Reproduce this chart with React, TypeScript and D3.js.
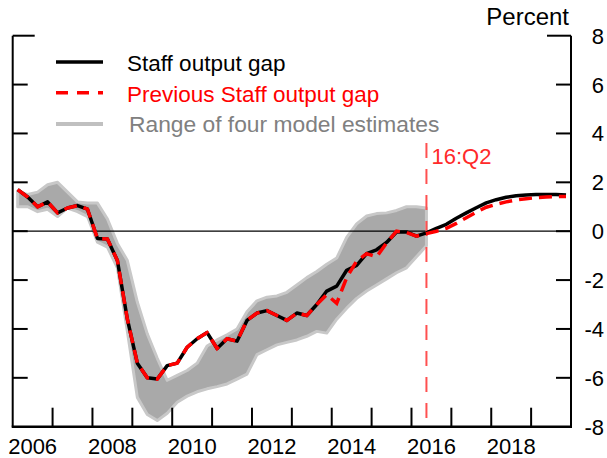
import React from "react";
import * as d3 from "d3";

// Quarterly data, 2006Q1 .. 2019Q4
const START_YEAR = 2006;
const staffGap = [
  1.7, 1.4, 1.0, 1.2,
  0.75, 0.95, 1.05, 0.9,
  -0.3, -0.32, -1.2, -3.6,
  -5.4, -6.0, -6.05, -5.5,
  -5.4, -4.75, -4.4, -4.15,
  -4.8, -4.4, -4.5, -3.65,
  -3.35, -3.25, -3.45, -3.65,
  -3.35, -3.45, -3.0, -2.45,
  -2.25, -1.6, -1.4, -0.92,
  -0.76, -0.46, -0.03, -0.03,
  -0.2, -0.07, 0.12, 0.28,
  0.53, 0.75, 0.96, 1.16,
  1.29, 1.39, 1.45, 1.48,
  1.5, 1.5, 1.5, 1.48,
];
const prevGap = [
  1.7, 1.4, 1.0, 1.2,
  0.75, 0.95, 1.05, 0.9,
  -0.3, -0.32, -1.2, -3.6,
  -5.4, -6.0, -6.05, -5.5,
  -5.4, -4.75, -4.4, -4.15,
  -4.8, -4.4, -4.5, -3.65,
  -3.35, -3.25, -3.45, -3.65,
  -3.35, -3.45, -3.0, -2.6,
  -2.95, -1.9, -1.22, -0.92,
  -1.05, -0.48, 0.0, -0.05,
  -0.2, -0.1, 0.0, 0.12,
  0.32, 0.55, 0.78, 0.98,
  1.1, 1.2, 1.28, 1.33,
  1.37, 1.4, 1.42, 1.42,
];
// Range of four model estimates, 2006Q1 .. 2016Q2
const rangeUpper = [
  1.65, 1.5, 1.6, 1.9,
  2.0, 1.6, 1.2, 1.15,
  1.15, 0.5, -0.5, -1.2,
  -2.9, -4.2, -5.2, -6.1,
  -5.9, -5.7, -5.4, -4.7,
  -4.45, -4.24, -4.0, -3.3,
  -2.85, -2.7, -2.65, -2.5,
  -2.2, -1.9, -1.65, -1.35,
  -1.1, -0.25, 0.3, 0.62,
  0.72, 0.75, 0.85, 1.0,
  1.0, 0.95,
];
const rangeLower = [
  1.0, 1.0, 0.8, 0.9,
  0.6, 0.95, 0.8, 0.6,
  -0.45, -0.65, -1.5, -4.1,
  -6.8, -7.5, -7.75, -7.45,
  -7.0, -6.75, -6.57, -6.45,
  -6.36, -6.25, -6.05, -5.85,
  -5.05, -4.85, -4.65, -4.55,
  -4.45, -4.3, -4.1, -4.17,
  -3.6, -3.15, -2.75, -2.45,
  -2.2, -1.95, -1.7, -1.5,
  -1.05, -0.6,
];
const yTicks = [8, 6, 4, 2, 0, -2, -4, -6, -8];
const yearTicks = [2007, 2008, 2009, 2010, 2011, 2012, 2013, 2014, 2015, 2016, 2017, 2018, 2019];
const yearLabels = ["2006", "2008", "2010", "2012", "2014", "2016", "2018"];
const cutoffIndex = 41; // 2016Q2
const cutoffLabel = "16:Q2";
const legendItems = ["Staff output gap", "Previous Staff output gap", "Range of four model estimates"];
const unitLabel = "Percent";

const W = 607;
const H = 458;
const FONT = "'Liberation Sans', Arial, Helvetica, sans-serif";

export default function App() {
  const L = 12.7, R = 571, T = 35.7, B = 426.7;
  const x = d3.scaleLinear().domain([START_YEAR, 2020]).range([L, R]);
  const y = d3.scaleLinear().domain([-8, 8]).range([B, T]);
  const qx = (i: number) => x(START_YEAR + (i + 0.5) / 4);

  const line = d3.line<number>().x((_, i) => qx(i)).y((d) => y(d));
  const area = d3
    .area<number>()
    .x((_, i) => qx(i))
    .y0((_, i) => y(rangeLower[i]))
    .y1((d) => y(d));

  const cx = qx(cutoffIndex);

  return (
    <svg width={W} height={H} style={{ position: "absolute", left: 0, top: 0 }} fontFamily={FONT}>
      <rect width={W} height={H} fill="#fff" />
      {/* range band */}
      <path d={area(rangeUpper) || ""} fill="#a9a9a9" stroke="#c8c8c8" strokeWidth={3} strokeLinejoin="round" />
      {/* zero line */}
      <line x1={L} x2={R} y1={y(0)} y2={y(0)} stroke="#000" strokeWidth={1.2} />
      {/* cutoff */}
      <line x1={cx} x2={cx} y1={143} y2={B} stroke="#ff5050" strokeWidth={2} strokeDasharray="15,11" />
      <text x={cx + 5} y={164} fontSize={22} fill="#ff2a2a">{cutoffLabel}</text>
      {/* series */}
      <path d={line(staffGap) || ""} fill="none" stroke="#000" strokeWidth={3.5} strokeLinejoin="round" />
      <path d={line(prevGap) || ""} fill="none" stroke="#ff0000" strokeWidth={3.5} strokeDasharray="13,7" />
      {/* axes */}
      <line x1={L} x2={L} y1={T} y2={B} stroke="#000" strokeWidth={2} />
      <line x1={R} x2={R} y1={T} y2={B + 1} stroke="#000" strokeWidth={2} />
      <line x1={L - 1} x2={R + 1} y1={B} y2={B} stroke="#000" strokeWidth={2.5} />
      <line x1={L} x2={L + 22} y1={T} y2={T} stroke="#000" strokeWidth={2} />
      <line x1={R - 24} x2={R} y1={T} y2={T} stroke="#000" strokeWidth={2} />
      {yTicks.filter((t) => t !== 8 && t !== -8).map((t) => (
        <g key={t}>
          <line x1={L} x2={L + 15} y1={y(t)} y2={y(t)} stroke="#000" strokeWidth={2} />
          <line x1={R - 15} x2={R} y1={y(t)} y2={y(t)} stroke="#000" strokeWidth={2} />
        </g>
      ))}
      {yTicks.map((t) => (
        <text key={"l" + t} x={604} y={y(t) + 8} fontSize={22} textAnchor="end" fill="#000">{t}</text>
      ))}
      {yearTicks.map((yr) => (
        <line key={yr} x1={x(yr)} x2={x(yr)} y1={B} y2={B - 19} stroke="#000" strokeWidth={2} />
      ))}
      {yearLabels.map((lab) => (
        <text key={lab} x={x(+lab + 0.5)} y={453.5} fontSize={22} textAnchor="middle" fill="#000">{lab}</text>
      ))}
      <text x={569} y={25} fontSize={24} textAnchor="end" fill="#000">{unitLabel}</text>
      {/* legend */}
      <line x1={56} x2={103} y1={62} y2={62} stroke="#000" strokeWidth={3.5} />
      <text x={127} y={71} fontSize={22.5} fill="#000">{legendItems[0]}</text>
      <line x1={56} x2={103} y1={92.7} y2={92.7} stroke="#ff0000" strokeWidth={3.5} strokeDasharray="12,9" />
      <text x={127} y={101.7} fontSize={22.5} fill="#ff0000">{legendItems[1]}</text>
      <line x1={56} x2={103} y1={124} y2={124} stroke="#c0c0c0" strokeWidth={4} />
      <text x={129} y={131.7} fontSize={22.8} fill="#808080">{legendItems[2]}</text>
    </svg>
  );
}
